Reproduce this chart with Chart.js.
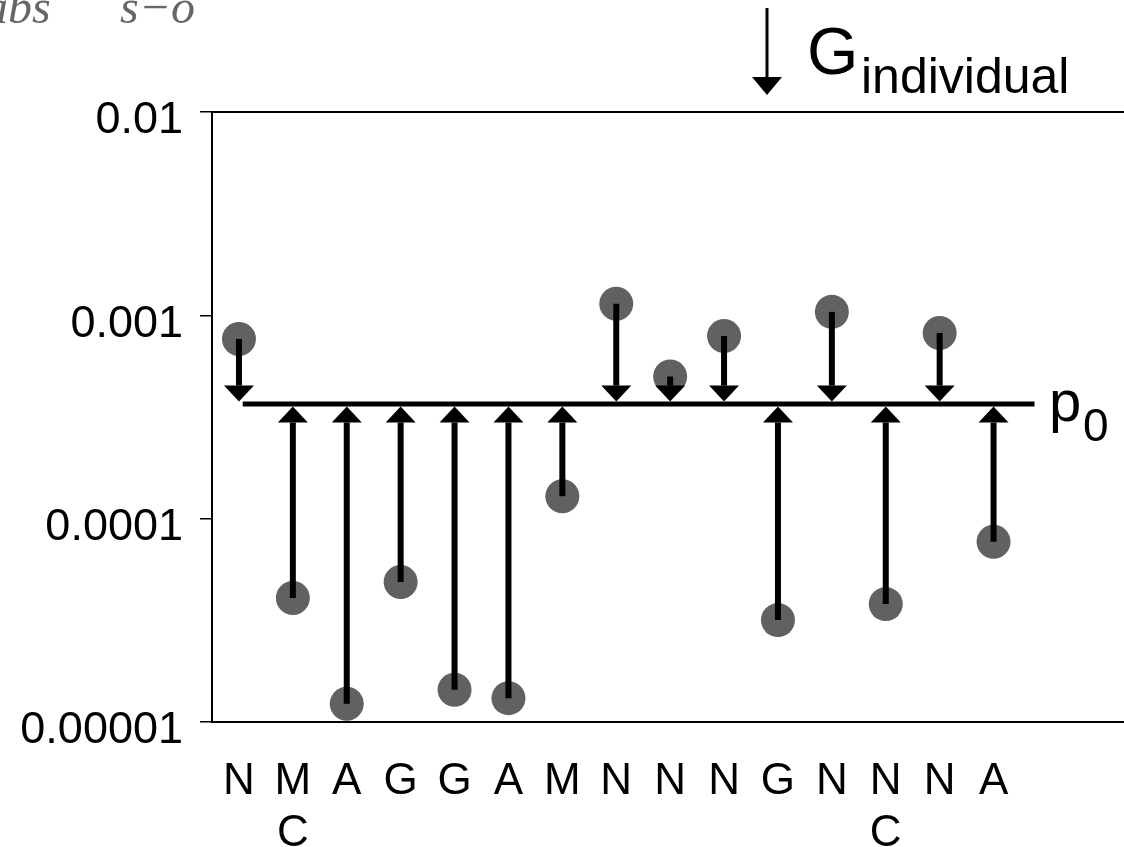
<!DOCTYPE html>
<html>
<head>
<meta charset="utf-8">
<script src="https://cdn.jsdelivr.net/npm/chart.js@4/dist/chart.umd.min.js"></script>
<style>
  html, body { margin: 0; padding: 0; background: #fff; overflow: hidden; }
  #wrap { position: relative; width: 1124px; height: 847px; }
</style>
</head>
<body>
<div id="wrap"><canvas id="gChart"></canvas></div>
<script>
// residues along the sequence (two-line labels for the C-marked ones)
const categories = ['N', ['M', 'C'], 'A', 'G', 'G', 'A', 'M', 'N', 'N', 'N', 'G', 'N', ['N', 'C'], 'N', 'A'];
// individual p values (grey dots)
const pValues = [7.65e-4, 4.07e-5, 1.23e-5, 4.88e-5, 1.44e-5, 1.31e-5, 1.29e-4, 1.14e-3, 5.0e-4, 7.91e-4, 3.17e-5, 1.04e-3, 3.8e-5, 8.19e-4, 7.7e-5];
// reference level p0
const p0 = 3.66e-4;
const yTicks = [0.00001, 0.0001, 0.001, 0.01];
const yTickLabels = ['0.00001', '0.0001', '0.001', '0.01'];

const FONT = '"Liberation Sans", Arial, Helvetica, sans-serif';

const arrowPlugin = {
  id: 'arrows',
  afterDatasetsDraw(chart) {
    const ctx = chart.ctx;
    const x = chart.scales.x;
    const y = chart.scales.y;
    const y0 = y.getPixelForValue(p0);
    const lw = 5, headH = 16, headW = 30, shaftW = 6;

    ctx.save();
    ctx.fillStyle = '#000';
    ctx.strokeStyle = '#000';

    // p0 line
    ctx.lineWidth = lw;
    ctx.beginPath();
    ctx.moveTo(x.getPixelForValue(0.07), y0);
    ctx.lineTo(x.getPixelForValue(14.76), y0);
    ctx.stroke();

    // arrows from each point to p0
    pValues.forEach((v, i) => {
      const xp = x.getPixelForValue(i);
      const yv = y.getPixelForValue(v);
      const down = yv < y0;
      const tip = down ? y0 - lw / 2 : y0 + lw / 2;
      const base = down ? tip - headH : tip + headH;
      ctx.lineWidth = shaftW;
      ctx.beginPath();
      ctx.moveTo(xp, yv);
      ctx.lineTo(xp, base);
      ctx.stroke();
      ctx.beginPath();
      ctx.moveTo(xp - headW / 2, base);
      ctx.lineTo(xp + headW / 2, base);
      ctx.lineTo(xp, tip);
      ctx.closePath();
      ctx.fill();
    });

    // p0 label
    ctx.textBaseline = 'alphabetic';
    ctx.textAlign = 'left';
    ctx.font = '58px ' + FONT;
    ctx.fillText('p', 1049, 421);
    ctx.font = '46px ' + FONT;
    ctx.fillText('0', 1083, 441);

    // legend: arrow + G_individual
    ctx.lineWidth = 3;
    ctx.beginPath();
    ctx.moveTo(767, 8);
    ctx.lineTo(767, 78);
    ctx.stroke();
    ctx.beginPath();
    ctx.moveTo(752, 77);
    ctx.lineTo(782, 77);
    ctx.lineTo(767, 95);
    ctx.closePath();
    ctx.fill();
    ctx.font = '66px ' + FONT;
    ctx.fillText('G', 807, 74);
    ctx.font = '50px ' + FONT;
    ctx.fillText('individual', 861, 93);

    // cropped caption fragments at the top left
    ctx.fillStyle = '#666';
    ctx.font = 'italic 48px "Liberation Serif", "Times New Roman", serif';
    ctx.fillText('abs', -16, 23);
    ctx.fillText('s\u2212o', 120, 23);
    ctx.restore();
  }
};

new Chart(document.getElementById('gChart'), {
  type: 'scatter',
  data: {
    datasets: [{
      label: 'p',
      data: pValues.map((v, i) => ({ x: i, y: v })),
      backgroundColor: '#616161',
      borderWidth: 0,
      pointRadius: 17,
      pointHoverRadius: 17
    }]
  },
  options: {
    responsive: true,
    maintainAspectRatio: false,
    animation: false,
    layout: { padding: 0, autoPadding: false },
    clip: false,
    plugins: {
      legend: { display: false },
      tooltip: { enabled: false }
    },
    scales: {
      x: {
        type: 'linear',
        position: 'bottom',
        min: -0.5,
        max: 16.42,
        afterBuildTicks: (s) => { s.ticks = categories.map((c, i) => ({ value: i })); },
        afterFit: (s) => { s.height = 125; s.paddingLeft = 0; s.paddingRight = 0; },
        grid: { display: false },
        border: { display: true, color: '#000', width: 2 },
        ticks: {
          autoSkip: false,
          maxRotation: 0,
          padding: 25,
          color: '#000',
          font: { family: FONT, size: 44, lineHeight: 1.2 },
          callback: (v) => categories[v]
        }
      },
      xTop: {
        type: 'linear',
        position: 'top',
        min: -0.5,
        max: 16.42,
        afterFit: (s) => { s.height = 112; s.paddingLeft = 0; s.paddingRight = 0; },
        grid: { display: false },
        border: { display: true, color: '#000', width: 2 },
        ticks: { display: false }
      },
      y: {
        type: 'logarithmic',
        min: 0.00001,
        max: 0.01,
        afterBuildTicks: (s) => { s.ticks = yTicks.map(v => ({ value: v })); },
        afterFit: (s) => { s.width = 212; s.paddingTop = 0; s.paddingBottom = 0; },
        grid: { drawOnChartArea: false, drawTicks: true, tickLength: 12, color: '#000', lineWidth: 1.5 },
        border: { display: true, color: '#000', width: 2 },
        ticks: {
          padding: 17,
          labelOffset: 9,
          color: '#000',
          font: { family: FONT, size: 45 },
          callback: (v, i) => yTickLabels[i]
        }
      }
    }
  },
  plugins: [arrowPlugin]
});
</script>
</body>
</html>
